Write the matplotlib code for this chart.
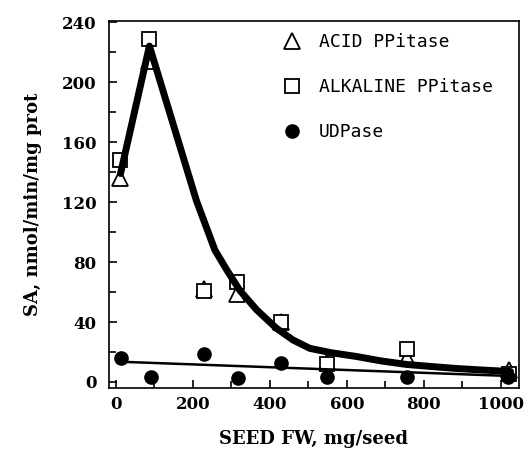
import matplotlib
matplotlib.use("Agg")
import matplotlib.pyplot as plt
from matplotlib.ticker import MultipleLocator

# measured points (seed fresh weight, mg/seed)
seed_fw = [10, 87, 229, 314, 429, 549, 755, 1020]
acid_ppi = [136, 214, 62, 59, 40, 13.5, 16, 8]
alk_ppi = [148, 229, 61, 67, 40, 12, 22, 5]
udpase_x = [12, 90, 229, 316, 429, 548, 756, 1019]
udpase = [15.8, 3.5, 18.7, 2.4, 13, 3.5, 3, 3.5]

# hand-drawn trend curves
ppi_curve_x = [12, 87, 209, 257, 288, 322, 366, 417, 460, 504, 560, 625, 690, 755, 820, 885, 950, 1025]
ppi_curve_y = [139, 224, 121, 88, 74.7, 61, 48, 35.8, 28, 22.4, 19.5, 17, 14, 11.7, 10.3, 9, 8, 7]
udp_curve_x = [12, 1024]
udp_curve_y = [13.5, 4]

legend_labels = ["ACID PPitase", "ALKALINE PPitase", "UDPase"]

tick_font = dict(family="DejaVu Serif", weight="bold", size=12)
label_font = dict(family="DejaVu Serif", weight="bold", size=13)

fig = plt.figure(figsize=(5.26, 4.51), dpi=100)
ax = fig.add_axes((0.2072, 0.1397, 0.7795, 0.8137))

ax.plot(ppi_curve_x, ppi_curve_y, color="black", lw=5, solid_capstyle="round",
        solid_joinstyle="round", zorder=3)
ax.plot(udp_curve_x, udp_curve_y, color="black", lw=1.8, zorder=3)

h1, = ax.plot(seed_fw, acid_ppi, ls="none", marker="^", ms=11, mfc="white",
              mec="black", mew=1.3, zorder=2)
h2, = ax.plot(seed_fw, alk_ppi, ls="none", marker="s", ms=9.5, mfc="white",
              mec="black", mew=1.3, zorder=2)
h3, = ax.plot(udpase_x, udpase, ls="none", marker="o", ms=9.5, color="black",
              zorder=4)

ax.set_xlim(-18, 1047)
ax.set_ylim(-4, 240.7)
ax.xaxis.set_major_locator(MultipleLocator(200))
ax.xaxis.set_minor_locator(MultipleLocator(100))
ax.yaxis.set_major_locator(MultipleLocator(40))
ax.yaxis.set_minor_locator(MultipleLocator(20))
ax.tick_params(which="both", direction="in", width=1.2)
ax.tick_params(which="major", length=6)
ax.tick_params(which="minor", length=5)
ax.tick_params(axis="x", which="major", pad=6)
ax.tick_params(axis="y", which="major", pad=9)
for lbl in ax.get_xticklabels() + ax.get_yticklabels():
    lbl.set_fontfamily(tick_font["family"])
    lbl.set_fontweight(tick_font["weight"])
    lbl.set_fontsize(tick_font["size"])
for sp in ax.spines.values():
    sp.set_linewidth(1.2)

ax.set_xlabel("SEED FW, mg/seed", labelpad=12, **label_font)
ax.set_ylabel("SA, nmol/min/mg prot", labelpad=14, **label_font)

ax.legend([h1, h2, h3], legend_labels, loc="upper left",
          bbox_to_anchor=(0.424, 0.967), frameon=False, borderpad=0,
          borderaxespad=0, handlelength=1.0, handletextpad=1.0,
          labelspacing=1.5, prop=dict(family="DejaVu Sans Mono", size=13))

fig.savefig("out.png", dpi=100)
